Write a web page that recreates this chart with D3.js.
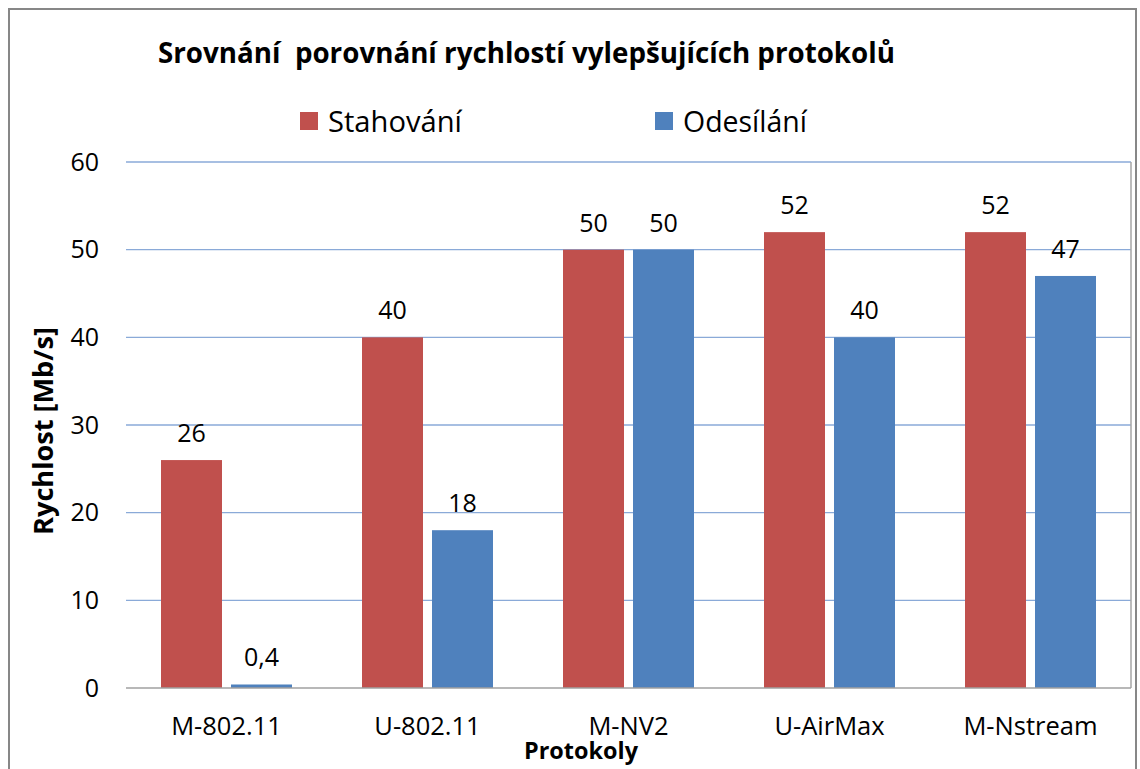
<!DOCTYPE html>
<html>
<head>
<meta charset="utf-8">
<script src="https://cdn.jsdelivr.net/npm/d3@7/dist/d3.min.js"></script>
<style>
  html, body { margin: 0; padding: 0; background: #ffffff; }
  svg { display: block; }
  text { font-family: "Open Sans", "Noto Sans", sans-serif; fill: #000; white-space: pre; }
</style>
</head>
<body>
<script>
const categories = ["M-802.11", "U-802.11", "M-NV2", "U-AirMax", "M-Nstream"];
const seriesNames = ["Stahování", "Odesílání"];
const stahovani = [26, 40, 50, 52, 52];
const odesilani = [0.4, 18, 50, 40, 47];
const valueLabels = [["26", "40", "50", "52", "52"], ["0,4", "18", "50", "40", "47"]];
const yTicks = [0, 10, 20, 30, 40, 50, 60];
const colors = ["#C0504D", "#4F81BD"];
const titleText = "Srovnání  porovnání rychlostí vylepšujících protokolů";
const yTitle = "Rychlost [Mb/s]";
const xTitle = "Protokoly";

const W = 1140, H = 769;
const plot = { left: 126, right: 1131, top: 162, bottom: 688 };

const svg = d3.select("body").append("svg").attr("width", W).attr("height", H);
svg.append("rect").attr("width", W).attr("height", H).attr("fill", "#fff");

// outer chart border
svg.append("rect").attr("x", 9).attr("y", 9).attr("width", 1127).attr("height", 800)
  .attr("fill", "none").attr("stroke", "#878787").attr("stroke-width", 2);

function fit(sel, target) {
  const n = sel.node();
  const fs = parseFloat(sel.attr("font-size"));
  const w = n.getComputedTextLength();
  sel.attr("font-size", (fs * target / w).toFixed(2));
}

const y = d3.scaleLinear().domain([0, 60]).range([plot.bottom, plot.top]);
const x0 = d3.scaleBand().domain(categories).range([plot.left, plot.right]).paddingInner(0).paddingOuter(0);
const x1 = d3.scaleBand().domain(seriesNames).range([35, 166]).paddingInner(9 / 70).paddingOuter(0);

// gridlines
svg.append("g").selectAll("line").data(yTicks.filter(d => d > 0)).join("line")
  .attr("x1", plot.left).attr("x2", plot.right)
  .attr("y1", d => y(d)).attr("y2", d => y(d))
  .attr("stroke", "#8AAAD8").attr("stroke-width", 1.3);

// right plot border
svg.append("line").attr("x1", plot.right).attr("x2", plot.right)
  .attr("y1", plot.top).attr("y2", plot.bottom)
  .attr("stroke", "#A6A6A6").attr("stroke-width", 1.5);

// bars
const data = [stahovani, odesilani];
const groups = svg.append("g").selectAll("g").data(categories).join("g")
  .attr("transform", d => `translate(${x0(d)},0)`);
groups.each(function(cat, i) {
  const g = d3.select(this);
  seriesNames.forEach((s, j) => {
    const v = data[j][i];
    g.append("rect")
      .attr("x", x1(s)).attr("width", x1.bandwidth())
      .attr("y", y(v)).attr("height", y(0) - y(v))
      .attr("fill", colors[j]);
    g.append("text")
      .attr("x", x1(s) + x1.bandwidth() / 2)
      .attr("y", y(v) - 18)
      .attr("text-anchor", "middle")
      .attr("font-size", 25)
      .text(valueLabels[j][i]);
  });
});

// x axis line
svg.append("line").attr("x1", plot.left).attr("x2", plot.right)
  .attr("y1", y(0)).attr("y2", y(0))
  .attr("stroke", "#A0A0A0").attr("stroke-width", 1.5);

// y tick labels
svg.append("g").selectAll("text").data(yTicks).join("text")
  .attr("x", 99).attr("y", d => y(d)).attr("dy", "0.35em")
  .attr("text-anchor", "end").attr("font-size", 25)
  .text(d => d);

// x tick labels
svg.append("g").selectAll("text").data(categories).join("text")
  .attr("x", d => x0(d) + x0.bandwidth() / 2).attr("y", 735)
  .attr("text-anchor", "middle").attr("font-size", 25.5)
  .text(d => d);

// title
const t = svg.append("text").attr("x", 158).attr("y", 63)
  .attr("font-size", 26).attr("font-weight", "bold").text(titleText);
fit(t, 737);

// legend
const legendX = [300, 655];
seriesNames.forEach((s, j) => {
  svg.append("rect").attr("x", legendX[j]).attr("y", 112).attr("width", 18).attr("height", 18)
    .attr("fill", colors[j]);
  const lt = svg.append("text").attr("x", legendX[j] + 28).attr("y", 132)
    .attr("font-size", 28).text(s);
  fit(lt, j === 0 ? 134 : 124);
});

// axis titles
const yt = svg.append("text")
  .attr("transform", "translate(53,431) rotate(-90)")
  .attr("text-anchor", "middle").attr("font-size", 24).attr("font-weight", "bold")
  .text(yTitle);
fit(yt, 208);

const xt = svg.append("text").attr("x", 581).attr("y", 759)
  .attr("text-anchor", "middle").attr("font-size", 18).attr("font-weight", "bold")
  .text(xTitle);
fit(xt, 114);
</script>
</body>
</html>
